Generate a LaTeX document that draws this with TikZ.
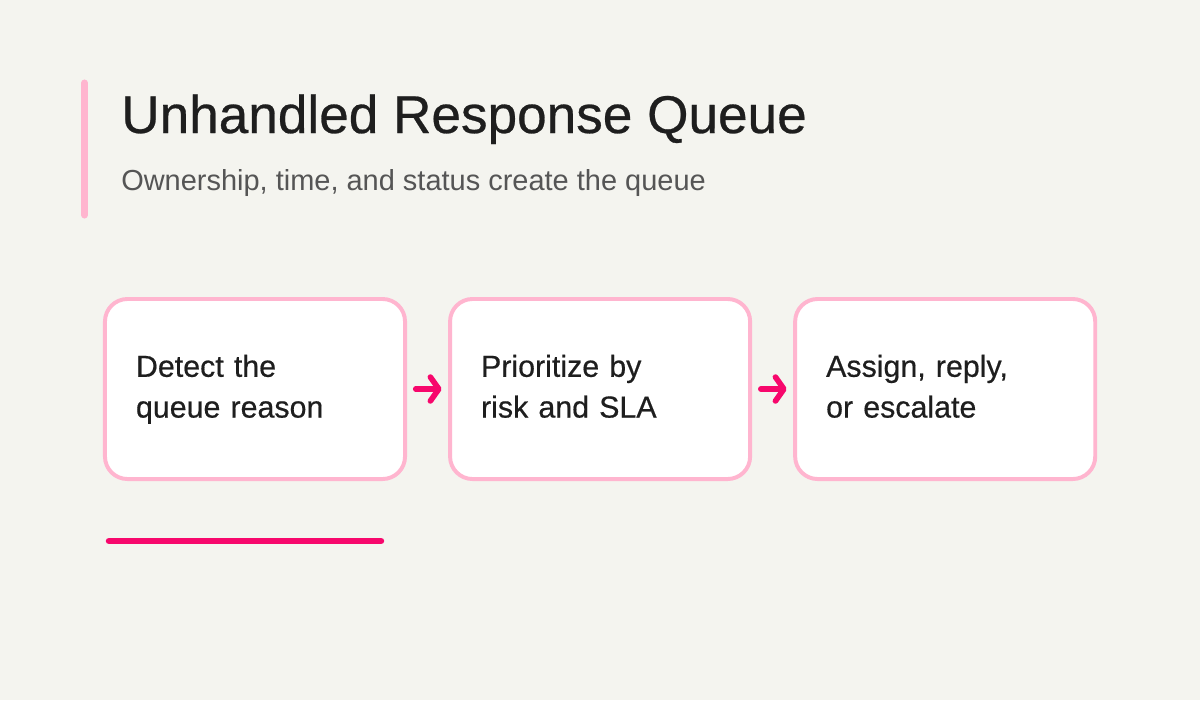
\documentclass[tikz,border=0pt]{standalone}
\usepackage{fontspec}
\setmainfont{Liberation Sans}
\newfontfamily\heavyfont[FakeBold=0.5]{Liberation Sans}
\usetikzlibrary{positioning,arrows.meta}
\definecolor{canvas}{HTML}{F4F4EF}
\definecolor{soft}{HTML}{FFB5CF}
\definecolor{hot}{HTML}{F7076C}
\definecolor{ink}{HTML}{1E1E1E}
\definecolor{muted}{HTML}{555555}

\begin{document}
\begin{tikzpicture}[
  x=0.025cm, y=-0.025cm,
  stage/.style={draw=soft, line width=2.8pt, fill=white, rounded corners=16pt,
    minimum width=7.5cm, minimum height=4.5cm, outer sep=0pt,
    inner xsep=0.775cm, text width=5.95cm, align=left, text=ink,
    font=\heavyfont\fontsize{21.6}{29}\selectfont,
    execute at begin node=\strut, execute at end node=\strut},
  nxt/.style={-{Straight Barb[length=6pt, width=17pt, round]}, draw=hot,
    line width=4pt, line cap=round, shorten <=7.6pt, shorten >=6pt},
  ttl/.style={anchor=base west, inner sep=0pt, text=ink,
    font=\heavyfont\fontsize{37.8}{44}\selectfont},
  sub/.style={anchor=base west, inner sep=0pt, text=muted,
    font=\fontsize{20.6}{25}\selectfont},
]
% ---------- canvas ----------
\fill[canvas] (0,0) rectangle (1200,700);
\useasboundingbox (0,0) rectangle (1200,700);

% ---------- heading ----------
\draw[soft, line width=5pt, line cap=round] (84.5,83) -- (84.5,215);
\node[ttl] (title) at (121,133) {Unhandled Response Queue};
\node[sub] (subtitle) at (121,190) {Ownership, time, and status create the queue};

% ---------- steps ----------
\node[stage] (detect) at (255,389) {Detect the\\queue reason};
\node[stage, right=1.125cm of detect] (rank) {Prioritize by\\risk and SLA};
\node[stage, right=1.125cm of rank] (act) {Assign, reply,\\or escalate};
\draw[nxt] (detect) -- (rank);
\draw[nxt] (rank) -- (act);

% ---------- underline ----------
\draw[hot, line width=4.6pt, line cap=round] (109,541) -- (381,541);
\end{tikzpicture}
\end{document}
